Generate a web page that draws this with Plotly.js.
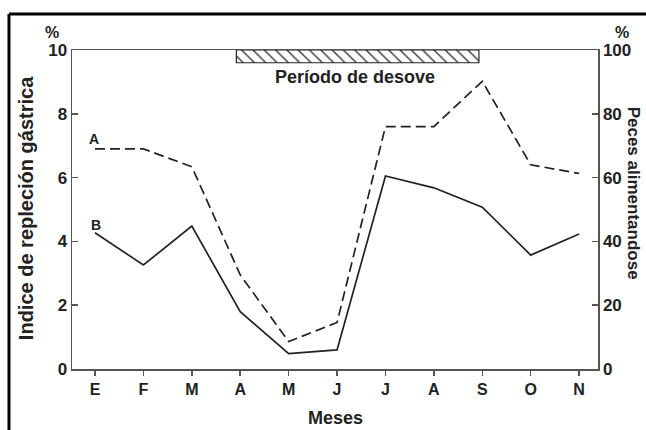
<!DOCTYPE html>
<html>
<head>
<meta charset="utf-8">
<script src="https://cdn.plot.ly/plotly-3.0.1.min.js"></script>
<style>html,body{margin:0;padding:0;background:#fff;}#chart{width:646px;height:430px;}</style>
</head>
<body>
<div id="chart"></div>
<script>
// Months (tick labels)
const months = ["E","F","M","A","M","J","J","A","S","O","N"];
// Series A (dashed) – Peces alimentandose, %
const seriesA = [69, 69, 63.4, 29.5, 8.6, 14.6, 76, 76, 90.2, 64, 61.3];
// Series B (solid) – Indice de repleción gástrica, %
const seriesB = [4.27, 3.26, 4.48, 1.8, 0.48, 0.6, 6.05, 5.68, 5.07, 3.57, 4.23];
// Spawning period (month index span) and bar band on left axis
const spawnStart = 2.92, spawnEnd = 7.93;
const spawnLow = 9.6, spawnHigh = 10;

const idx = months.map((m, i) => i);
const ink = "#222";
const axisCol = "#555";
const fam = "Liberation Sans, Arial, sans-serif";

const traces = [
  {
    x: [(spawnStart + spawnEnd) / 2], y: [spawnHigh - spawnLow], base: [spawnLow],
    width: [spawnEnd - spawnStart], type: "bar", xaxis: "x", yaxis: "y",
    marker: {color: "white", line: {color: ink, width: 1.2},
      pattern: {shape: "\\", size: 8, solidity: 0.15, fgcolor: ink, bgcolor: "white"}},
    hoverinfo: "skip", showlegend: false
  },
  {
    x: idx, y: seriesA, type: "scatter", mode: "lines", yaxis: "y2",
    line: {color: ink, width: 1.7, dash: "10px,5px"}, showlegend: false
  },
  {
    x: idx, y: seriesB, type: "scatter", mode: "lines", yaxis: "y",
    line: {color: ink, width: 1.7}, showlegend: false
  }
];

const tickFont = {family: fam, size: 17, color: ink, weight: "bold"};

const layout = {
  width: 646, height: 430,
  margin: {l: 72, r: 48, t: 50, b: 61},
  paper_bgcolor: "white", plot_bgcolor: "white",
  showlegend: false,
  font: {family: fam, size: 17, color: ink},
  xaxis: {
    range: [-0.475, 10.39], tickvals: idx, ticktext: months,
    showgrid: false, zeroline: false, showline: true, linecolor: axisCol, linewidth: 1.5,
    mirror: true, ticks: "outside", ticklen: 5, tickcolor: axisCol, tickwidth: 1.5,
    tickfont: {family: fam, size: 16, color: ink, weight: "bold"}
  },
  yaxis: {
    range: [0, 10], tickvals: [0, 2, 4, 6, 8, 10],
    showgrid: false, zeroline: false, showline: true, linecolor: axisCol, linewidth: 1.5,
    ticks: "inside", ticklen: 6, tickcolor: axisCol, tickwidth: 1.5,
    tickfont: tickFont
  },
  yaxis2: {
    range: [0, 100], tickvals: [0, 20, 40, 60, 80, 100], overlaying: "y", side: "right",
    showgrid: false, zeroline: false, showline: true, linecolor: axisCol, linewidth: 1.5,
    ticks: "inside", ticklen: 6, tickcolor: axisCol, tickwidth: 1.5,
    tickfont: tickFont
  },
  shapes: [
    {type: "line", xref: "paper", yref: "paper", x0: -0.1198, x1: 1.2, y0: 1.1129, y1: 1.1129,
     line: {color: "black", width: 3}},
    {type: "line", xref: "paper", yref: "paper", x0: -0.1198, x1: -0.1198, y0: 1.1129, y1: -0.3,
     line: {color: "black", width: 3}}
  ],
  annotations: [
    {text: "<b>Período de desove</b>", xref: "x", yref: "y", x: 5.37, y: 9.15,
     xanchor: "center", yanchor: "middle",
     showarrow: false, font: {family: fam, size: 18, color: ink}},
    {text: "<b>Meses</b>", xref: "paper", yref: "paper", x: 0.5, y: -0.154, xanchor: "center", yanchor: "middle",
     showarrow: false, font: {family: fam, size: 18, color: ink}},
    {text: "<b>Indice de repleción gástrica</b>", xref: "paper", yref: "paper", x: -0.087, y: 0.505,
     xanchor: "center", yanchor: "middle",
     textangle: -90, showarrow: false, font: {family: fam, size: 20, color: ink}},
    {text: "<b>Peces alimentandose</b>", xref: "paper", yref: "paper", x: 1.067, y: 0.552,
     xanchor: "center", yanchor: "middle", textangle: 90, showarrow: false,
     font: {family: fam, size: 17, color: ink}},
    {text: "<b>%</b>", xref: "paper", yref: "paper", x: -0.038, y: 1.056, xanchor: "center", yanchor: "middle",
     showarrow: false, font: {family: fam, size: 16, color: ink}},
    {text: "<b>%</b>", xref: "paper", yref: "paper", x: 1.045, y: 1.056, xanchor: "center", yanchor: "middle",
     showarrow: false, font: {family: fam, size: 16, color: ink}},
    {text: "<b>A</b>", xref: "x", yref: "y", x: -0.03, y: 7.2, xanchor: "center", yanchor: "middle", showarrow: false,
     font: {family: fam, size: 14, color: ink}},
    {text: "<b>B</b>", xref: "x", yref: "y", x: 0.03, y: 4.5, xanchor: "center", yanchor: "middle", showarrow: false,
     font: {family: fam, size: 14, color: ink}}
  ]
};

Plotly.newPlot("chart", traces, layout, {staticPlot: true, displayModeBar: false});
</script>
</body>
</html>
